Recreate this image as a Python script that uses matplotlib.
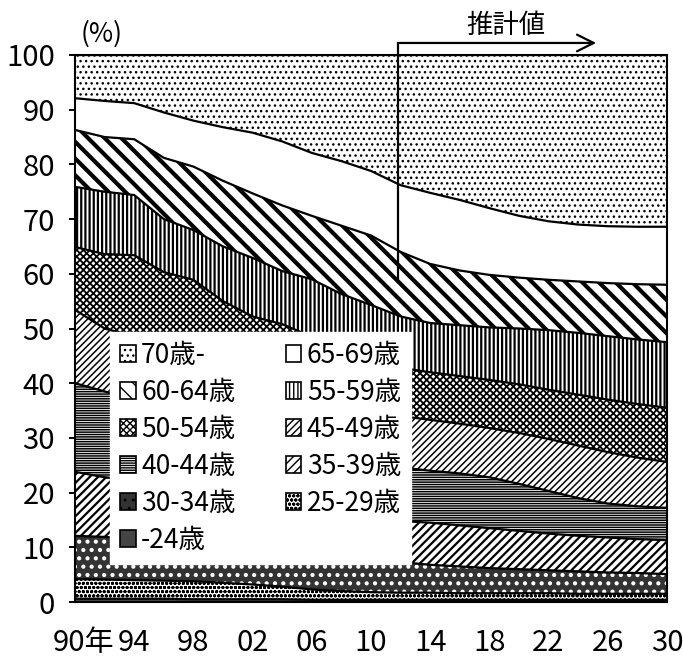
import matplotlib
matplotlib.use("Agg")
import matplotlib.pyplot as plt
import matplotlib.transforms as mtransforms
from matplotlib.patches import Patch
import numpy as np

plt.rcParams['font.family'] = ['Noto Sans CJK JP', 'DejaVu Sans']

# 年（1990〜2012 実績、2014〜 推計）
years = [1990, 1992, 1994, 1996, 1998, 2000, 2002, 2004, 2006, 2008, 2010,
         2012, 2014, 2016, 2018, 2020, 2022, 2024, 2026, 2028, 2030]

# 年齢階級別構成比（%）、下から積み上げ
age_u24 = [0.6, 0.6, 0.6, 0.6, 0.5, 0.5, 0.5, 0.5, 0.4, 0.4, 0.4,
           0.4, 0.4, 0.4, 0.4, 0.4, 0.4, 0.4, 0.4, 0.4, 0.4]
age_25_29 = [3.6, 3.5, 3.4, 3.3, 3.3, 3.0, 2.7, 2.3, 1.9, 1.6, 1.4,
             1.3, 1.3, 1.2, 1.2, 1.2, 1.2, 1.1, 1.1, 1.1, 1.1]
age_30_34 = [7.9, 7.8, 7.5, 7.3, 7.2, 7.2, 7.2, 7.2, 7.1, 6.6, 6.1,
             5.6, 5.1, 4.9, 4.6, 4.4, 4.2, 4.1, 3.9, 3.8, 3.6]
age_35_39 = [11.7, 10.9, 10.5, 9.8, 9.0, 8.3, 7.6, 7.2, 7.1, 7.2, 7.3,
             7.5, 7.7, 7.5, 7.3, 7.0, 6.7, 6.5, 6.4, 6.2, 6.2]
age_40_44 = [16.2, 15.7, 15.0, 14.5, 14.0, 13.5, 13.0, 12.3, 11.7, 11.0, 10.5,
             9.8, 9.5, 9.5, 9.3, 8.6, 7.8, 6.9, 6.2, 6.0, 5.9]
age_45_49 = [13.4, 11.5, 11.5, 11.0, 11.0, 10.5, 10.0, 10.0, 9.8, 9.7, 9.5,
             9.4, 9.3, 9.1, 9.0, 9.3, 9.5, 9.6, 9.4, 8.9, 8.4]
age_50_54 = [11.5, 13.6, 14.9, 13.8, 13.9, 12.0, 11.2, 11.3, 10.5, 10.0, 9.3,
             8.8, 8.7, 8.7, 8.8, 8.9, 9.0, 9.3, 9.6, 9.8, 9.9]
age_55_59 = [11.0, 11.4, 11.0, 9.7, 9.1, 10.0, 10.7, 9.7, 10.5, 9.8, 9.8,
             9.4, 9.0, 9.3, 9.6, 10.2, 10.9, 11.3, 11.6, 11.8, 12.0]
age_60_64 = [10.4, 10.0, 10.2, 11.2, 11.6, 12.0, 11.8, 12.0, 11.6, 12.5, 12.7,
             11.8, 10.8, 10.0, 9.6, 9.3, 9.2, 9.4, 9.7, 10.1, 10.5]
age_65_69 = [5.8, 6.6, 6.6, 8.3, 8.4, 9.8, 11.1, 11.7, 11.5, 11.8, 11.8,
             12.2, 13.0, 12.9, 12.2, 11.3, 10.7, 10.4, 10.4, 10.5, 10.6]
age_70 = [7.9, 8.4, 8.8, 10.5, 12.0, 13.2, 14.2, 15.8, 17.9, 19.4, 21.2,
          23.8, 25.2, 26.5, 28.0, 29.4, 30.4, 31.0, 31.3, 31.4, 31.4]

labels = ['-24歳', '25-29歳', '30-34歳', '35-39歳', '40-44歳', '45-49歳',
          '50-54歳', '55-59歳', '60-64歳', '65-69歳', '70歳-']
series = [age_u24, age_25_29, age_30_34, age_35_39, age_40_44, age_45_49,
          age_50_54, age_55_59, age_60_64, age_65_69, age_70]

tick_years = [1990, 1994, 1998, 2002, 2006, 2010, 2014, 2018, 2022, 2026, 2030]
tick_labels = ['90年', '94', '98', '02', '06', '10', '14', '18', '22', '26', '30']
proj_start = 2011.8

# 塗りの様式: (面の色, ハッチ, ハッチ色, ハッチ線幅)
styles = [
    ('#444444', '', 'black', 1.0),
    ('white', 'oooo', 'black', 1.0),
    ('#333333', '..', 'white', 1.8),
    ('white', '////', 'black', 1.6),
    ('white', '-------', 'black', 1.1),
    ('white', '/////', 'black', 1.1),
    ('white', 'xxxxx', 'black', 1.3),
    ('white', '||||', 'black', 1.6),
    ('white', '\\\\', 'black', 3.0),
    ('white', '', 'black', 1.0),
    ('white', '...', 'black', 1.0),
]

fig = plt.figure(figsize=(6.83, 6.59), dpi=100)
ax = fig.add_axes([75 / 683, 1 - 602 / 659, 592 / 683, 547 / 659])

x = np.array(years, dtype=float)
base = np.zeros(len(years))
handles = {}
for lab, vals, (fc, hatch, hc, hlw) in zip(labels, series, styles):
    top = base + np.array(vals)
    with plt.rc_context({'hatch.linewidth': hlw}):
        ax.fill_between(x, base, top, facecolor=fc, edgecolor=hc,
                        hatch=hatch, linewidth=0)
        handles[lab] = Patch(facecolor=fc, edgecolor=hc, hatch=hatch, linewidth=0)
    ax.plot(x, top, color='black', linewidth=1.6)
    base = top

ax.set_xlim(1990, 2030)
ax.set_ylim(0, 100)
ax.set_yticks(range(0, 101, 10))
ax.set_xticks(tick_years)
ax.set_xticklabels(tick_labels)
ax.tick_params(axis='x', length=0, pad=19, labelsize=21)
ax.tick_params(axis='y', length=4.5, width=1.4, pad=10, labelsize=21)
for sp in ax.spines.values():
    sp.set_linewidth(1.5)

# 「90年」を少し右へ
lbl = ax.get_xticklabels()[0]
lbl.set_transform(lbl.get_transform() + mtransforms.ScaledTranslation(0.09, 0, fig.dpi_scale_trans))

ax.text(1991.8, 103.9, '(%)', fontsize=19, ha='center', va='center', clip_on=False)

# 推計値の矢印
ax.plot([proj_start, proj_start], [58.9, 102.2], color='black', linewidth=1.6, clip_on=False)
ax.annotate('', xy=(2025.4, 102.2), xytext=(proj_start - 0.05, 102.2),
            arrowprops=dict(arrowstyle='->', lw=1.6, mutation_scale=30, color='black'),
            annotation_clip=False)
ax.text(2019.1, 105.4, '推計値', fontsize=19, ha='center', va='center', clip_on=False)

legend_order = ['70歳-', '60-64歳', '50-54歳', '40-44歳', '30-34歳', '-24歳',
                '65-69歳', '55-59歳', '45-49歳', '35-39歳', '25-29歳']
leg = ax.legend([handles[k] for k in legend_order], legend_order, ncol=2,
                loc='upper left', bbox_to_anchor=(110 / 683, 1 - 332 / 659),
                bbox_transform=fig.transFigure, borderaxespad=0,
                fontsize=19, frameon=True, fancybox=False, framealpha=1,
                edgecolor='white', facecolor='white',
                handlelength=0.6, handleheight=0.6, handletextpad=0.2,
                labelspacing=0.38, columnspacing=1.9, borderpad=0.38)
for h in leg.legend_handles:
    h.set_edgecolor('black')
    h.set_linewidth(1.2)

fig.savefig('out.png', dpi=100)
